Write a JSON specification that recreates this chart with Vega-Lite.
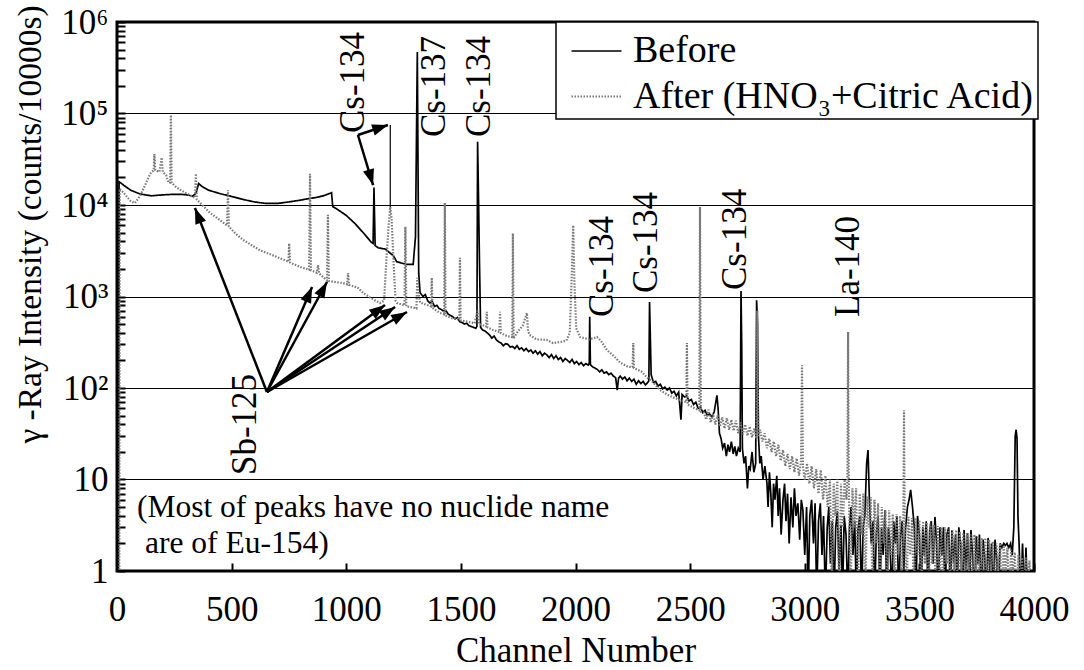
{
  "$schema": "https://vega.github.io/schema/vega-lite/v6.json",
  "width": 917,
  "height": 549,
  "autosize": {"type": "none"},
  "padding": {"left": 117, "top": 22, "right": 50, "bottom": 99},
  "background": "white",
  "config": {
    "font": "Liberation Serif",
    "view": {"stroke": "black", "strokeWidth": 3},
    "axis": {
      "domain": false,
      "labelFont": "Liberation Serif",
      "titleFont": "Liberation Serif",
      "labelColor": "black",
      "titleColor": "black",
      "titleFontWeight": "normal",
      "labelFontSize": 35,
      "titleFontSize": 33,
      "tickColor": "black",
      "tickWidth": 2,
      "labelOverlap": false,
      "labelBound": false
    },
    "legend": {
      "orient": "none",
      "legendX": 439,
      "legendY": 0,
      "direction": "vertical",
      "strokeColor": "black",
      "strokeWidth": 1.5,
      "fillColor": "white",
      "padding": 3,
      "labelFont": "Liberation Serif",
      "labelFontSize": 38,
      "labelColor": "black",
      "labelOffset": 10,
      "labelLimit": 600,
      "rowPadding": -2,
      "symbolOffset": 11,
      "symbolType": "stroke",
      "symbolSize": 2500,
      "symbolStrokeWidth": 5
    }
  },
  "datasets": {
    "spectrum": [
      {"s": "Before", "ch": 2, "v": 0.5}, {"s": "Before", "ch": 4, "v": 3}, {"s": "Before", "ch": 6, "v": 0.5},
      {"s": "Before", "ch": 9, "v": 18000}, {"s": "Before", "ch": 30, "v": 16400}, {"s": "Before", "ch": 60, "v": 14500},
      {"s": "Before", "ch": 100, "v": 13200}, {"s": "Before", "ch": 150, "v": 12600}, {"s": "Before", "ch": 200, "v": 12900},
      {"s": "Before", "ch": 250, "v": 13100}, {"s": "Before", "ch": 300, "v": 13000}, {"s": "Before", "ch": 330, "v": 12500},
      {"s": "Before", "ch": 345, "v": 13500}, {"s": "Before", "ch": 356, "v": 17200}, {"s": "Before", "ch": 370, "v": 16000},
      {"s": "Before", "ch": 400, "v": 14500}, {"s": "Before", "ch": 450, "v": 13300}, {"s": "Before", "ch": 500, "v": 12400},
      {"s": "Before", "ch": 550, "v": 11500}, {"s": "Before", "ch": 600, "v": 10800}, {"s": "Before", "ch": 650, "v": 10400},
      {"s": "Before", "ch": 700, "v": 10400}, {"s": "Before", "ch": 750, "v": 10800}, {"s": "Before", "ch": 800, "v": 11300},
      {"s": "Before", "ch": 842, "v": 11800}, {"s": "Before", "ch": 870, "v": 12100}, {"s": "Before", "ch": 900, "v": 12600},
      {"s": "Before", "ch": 936, "v": 13600}, {"s": "Before", "ch": 941, "v": 9600}, {"s": "Before", "ch": 960, "v": 9000},
      {"s": "Before", "ch": 1000, "v": 7700}, {"s": "Before", "ch": 1040, "v": 6200}, {"s": "Before", "ch": 1075, "v": 4950},
      {"s": "Before", "ch": 1110, "v": 3900}, {"s": "Before", "ch": 1117, "v": 3800}, {"s": "Before", "ch": 1121, "v": 15500},
      {"s": "Before", "ch": 1126, "v": 3600}, {"s": "Before", "ch": 1140, "v": 3400}, {"s": "Before", "ch": 1170, "v": 3300},
      {"s": "Before", "ch": 1190, "v": 3000}, {"s": "Before", "ch": 1205, "v": 2800}, {"s": "Before", "ch": 1220, "v": 2400},
      {"s": "Before", "ch": 1260, "v": 2250}, {"s": "Before", "ch": 1292, "v": 2250}, {"s": "Before", "ch": 1302, "v": 4500},
      {"s": "Before", "ch": 1310, "v": 470000}, {"s": "Before", "ch": 1316, "v": 1800}, {"s": "Before", "ch": 1322, "v": 1100},
      {"s": "Before", "ch": 1335, "v": 1000}, {"s": "Before", "ch": 1345, "v": 1050}, {"s": "Before", "ch": 1355, "v": 900},
      {"s": "Before", "ch": 1365, "v": 850}, {"s": "Before", "ch": 1375, "v": 880}, {"s": "Before", "ch": 1385, "v": 780},
      {"s": "Before", "ch": 1395, "v": 800}, {"s": "Before", "ch": 1405, "v": 740}, {"s": "Before", "ch": 1415, "v": 720},
      {"s": "Before", "ch": 1425, "v": 690}, {"s": "Before", "ch": 1435, "v": 700}, {"s": "Before", "ch": 1445, "v": 640},
      {"s": "Before", "ch": 1455, "v": 620}, {"s": "Before", "ch": 1465, "v": 600}, {"s": "Before", "ch": 1475, "v": 570},
      {"s": "Before", "ch": 1485, "v": 590}, {"s": "Before", "ch": 1495, "v": 530}, {"s": "Before", "ch": 1505, "v": 520},
      {"s": "Before", "ch": 1515, "v": 500}, {"s": "Before", "ch": 1525, "v": 510}, {"s": "Before", "ch": 1535, "v": 480},
      {"s": "Before", "ch": 1545, "v": 470}, {"s": "Before", "ch": 1555, "v": 460}, {"s": "Before", "ch": 1565, "v": 450},
      {"s": "Before", "ch": 1570, "v": 470}, {"s": "Before", "ch": 1573, "v": 49000}, {"s": "Before", "ch": 1577, "v": 12000},
      {"s": "Before", "ch": 1581, "v": 2500}, {"s": "Before", "ch": 1586, "v": 460}, {"s": "Before", "ch": 1595, "v": 430},
      {"s": "Before", "ch": 1605, "v": 420}, {"s": "Before", "ch": 1615, "v": 400}, {"s": "Before", "ch": 1625, "v": 380},
      {"s": "Before", "ch": 1635, "v": 350}, {"s": "Before", "ch": 1645, "v": 370}, {"s": "Before", "ch": 1655, "v": 335},
      {"s": "Before", "ch": 1665, "v": 320}, {"s": "Before", "ch": 1675, "v": 310}, {"s": "Before", "ch": 1685, "v": 290},
      {"s": "Before", "ch": 1695, "v": 305}, {"s": "Before", "ch": 1705, "v": 300}, {"s": "Before", "ch": 1715, "v": 280},
      {"s": "Before", "ch": 1725, "v": 285}, {"s": "Before", "ch": 1735, "v": 270}, {"s": "Before", "ch": 1745, "v": 290},
      {"s": "Before", "ch": 1755, "v": 265}, {"s": "Before", "ch": 1765, "v": 275}, {"s": "Before", "ch": 1775, "v": 255},
      {"s": "Before", "ch": 1785, "v": 270}, {"s": "Before", "ch": 1795, "v": 250}, {"s": "Before", "ch": 1805, "v": 260},
      {"s": "Before", "ch": 1815, "v": 240}, {"s": "Before", "ch": 1825, "v": 255}, {"s": "Before", "ch": 1835, "v": 235},
      {"s": "Before", "ch": 1845, "v": 250}, {"s": "Before", "ch": 1855, "v": 225}, {"s": "Before", "ch": 1865, "v": 240},
      {"s": "Before", "ch": 1875, "v": 230}, {"s": "Before", "ch": 1885, "v": 215}, {"s": "Before", "ch": 1895, "v": 232},
      {"s": "Before", "ch": 1905, "v": 210}, {"s": "Before", "ch": 1915, "v": 225}, {"s": "Before", "ch": 1925, "v": 205},
      {"s": "Before", "ch": 1935, "v": 215}, {"s": "Before", "ch": 1945, "v": 195}, {"s": "Before", "ch": 1955, "v": 210},
      {"s": "Before", "ch": 1965, "v": 200}, {"s": "Before", "ch": 1975, "v": 190}, {"s": "Before", "ch": 1985, "v": 205},
      {"s": "Before", "ch": 1995, "v": 185}, {"s": "Before", "ch": 2005, "v": 195}, {"s": "Before", "ch": 2015, "v": 180},
      {"s": "Before", "ch": 2025, "v": 190}, {"s": "Before", "ch": 2035, "v": 175}, {"s": "Before", "ch": 2045, "v": 185},
      {"s": "Before", "ch": 2055, "v": 178}, {"s": "Before", "ch": 2060, "v": 185}, {"s": "Before", "ch": 2062, "v": 600},
      {"s": "Before", "ch": 2065, "v": 180}, {"s": "Before", "ch": 2075, "v": 170}, {"s": "Before", "ch": 2085, "v": 165},
      {"s": "Before", "ch": 2095, "v": 160}, {"s": "Before", "ch": 2105, "v": 150}, {"s": "Before", "ch": 2115, "v": 158},
      {"s": "Before", "ch": 2125, "v": 145}, {"s": "Before", "ch": 2135, "v": 150}, {"s": "Before", "ch": 2145, "v": 140},
      {"s": "Before", "ch": 2155, "v": 145}, {"s": "Before", "ch": 2165, "v": 135}, {"s": "Before", "ch": 2175, "v": 130},
      {"s": "Before", "ch": 2182, "v": 95}, {"s": "Before", "ch": 2188, "v": 128}, {"s": "Before", "ch": 2195, "v": 135},
      {"s": "Before", "ch": 2205, "v": 125}, {"s": "Before", "ch": 2215, "v": 132}, {"s": "Before", "ch": 2225, "v": 120},
      {"s": "Before", "ch": 2235, "v": 128}, {"s": "Before", "ch": 2245, "v": 118}, {"s": "Before", "ch": 2255, "v": 125},
      {"s": "Before", "ch": 2265, "v": 110}, {"s": "Before", "ch": 2275, "v": 120}, {"s": "Before", "ch": 2285, "v": 112},
      {"s": "Before", "ch": 2295, "v": 118}, {"s": "Before", "ch": 2305, "v": 108}, {"s": "Before", "ch": 2315, "v": 115},
      {"s": "Before", "ch": 2320, "v": 120}, {"s": "Before", "ch": 2323, "v": 870}, {"s": "Before", "ch": 2326, "v": 400},
      {"s": "Before", "ch": 2330, "v": 140}, {"s": "Before", "ch": 2340, "v": 115}, {"s": "Before", "ch": 2350, "v": 118},
      {"s": "Before", "ch": 2360, "v": 105}, {"s": "Before", "ch": 2370, "v": 110}, {"s": "Before", "ch": 2380, "v": 98},
      {"s": "Before", "ch": 2390, "v": 102}, {"s": "Before", "ch": 2400, "v": 95}, {"s": "Before", "ch": 2410, "v": 100},
      {"s": "Before", "ch": 2420, "v": 88}, {"s": "Before", "ch": 2430, "v": 92}, {"s": "Before", "ch": 2440, "v": 82},
      {"s": "Before", "ch": 2450, "v": 90}, {"s": "Before", "ch": 2460, "v": 45}, {"s": "Before", "ch": 2465, "v": 85},
      {"s": "Before", "ch": 2475, "v": 80}, {"s": "Before", "ch": 2485, "v": 82}, {"s": "Before", "ch": 2495, "v": 72},
      {"s": "Before", "ch": 2505, "v": 75}, {"s": "Before", "ch": 2515, "v": 66}, {"s": "Before", "ch": 2525, "v": 70},
      {"s": "Before", "ch": 2535, "v": 60}, {"s": "Before", "ch": 2545, "v": 62}, {"s": "Before", "ch": 2555, "v": 54},
      {"s": "Before", "ch": 2565, "v": 57}, {"s": "Before", "ch": 2575, "v": 50}, {"s": "Before", "ch": 2585, "v": 52},
      {"s": "Before", "ch": 2595, "v": 48}, {"s": "Before", "ch": 2605, "v": 55}, {"s": "Before", "ch": 2612, "v": 70},
      {"s": "Before", "ch": 2617, "v": 83}, {"s": "Before", "ch": 2622, "v": 60}, {"s": "Before", "ch": 2628, "v": 32},
      {"s": "Before", "ch": 2635, "v": 28}, {"s": "Before", "ch": 2642, "v": 22}, {"s": "Before", "ch": 2650, "v": 25},
      {"s": "Before", "ch": 2658, "v": 18}, {"s": "Before", "ch": 2665, "v": 24}, {"s": "Before", "ch": 2672, "v": 20},
      {"s": "Before", "ch": 2680, "v": 26}, {"s": "Before", "ch": 2688, "v": 19}, {"s": "Before", "ch": 2695, "v": 23},
      {"s": "Before", "ch": 2702, "v": 18}, {"s": "Before", "ch": 2710, "v": 22}, {"s": "Before", "ch": 2718, "v": 20},
      {"s": "Before", "ch": 2722, "v": 1150}, {"s": "Before", "ch": 2725, "v": 300}, {"s": "Before", "ch": 2728, "v": 22},
      {"s": "Before", "ch": 2735, "v": 15}, {"s": "Before", "ch": 2742, "v": 18}, {"s": "Before", "ch": 2750, "v": 8},
      {"s": "Before", "ch": 2756, "v": 14}, {"s": "Before", "ch": 2762, "v": 13}, {"s": "Before", "ch": 2770, "v": 20},
      {"s": "Before", "ch": 2778, "v": 12}, {"s": "Before", "ch": 2786, "v": 15}, {"s": "Before", "ch": 2790, "v": 910},
      {"s": "Before", "ch": 2794, "v": 500}, {"s": "Before", "ch": 2798, "v": 30}, {"s": "Before", "ch": 2804, "v": 15},
      {"s": "Before", "ch": 2810, "v": 18}, {"s": "Before", "ch": 2818, "v": 10}, {"s": "Before", "ch": 2826, "v": 14},
      {"s": "Before", "ch": 2835, "v": 9.2}, {"s": "Before", "ch": 2840, "v": 5}, {"s": "Before", "ch": 2846, "v": 12},
      {"s": "Before", "ch": 2852, "v": 7}, {"s": "Before", "ch": 2858, "v": 3}, {"s": "Before", "ch": 2864, "v": 9},
      {"s": "Before", "ch": 2870, "v": 6}, {"s": "Before", "ch": 2878, "v": 11}, {"s": "Before", "ch": 2884, "v": 4},
      {"s": "Before", "ch": 2890, "v": 8}, {"s": "Before", "ch": 2897, "v": 2.5}, {"s": "Before", "ch": 2905, "v": 6},
      {"s": "Before", "ch": 2912, "v": 9}, {"s": "Before", "ch": 2918, "v": 3.5}, {"s": "Before", "ch": 2925, "v": 7},
      {"s": "Before", "ch": 2932, "v": 2}, {"s": "Before", "ch": 2940, "v": 6.4}, {"s": "Before", "ch": 2948, "v": 3},
      {"s": "Before", "ch": 2955, "v": 8}, {"s": "Before", "ch": 2962, "v": 4}, {"s": "Before", "ch": 2970, "v": 5.5},
      {"s": "Before", "ch": 2978, "v": 2.2}, {"s": "Before", "ch": 2985, "v": 6}, {"s": "Before", "ch": 2992, "v": 4.6},
      {"s": "Before", "ch": 3000, "v": 1.5}, {"s": "Before", "ch": 3008, "v": 5}, {"s": "Before", "ch": 3015, "v": 0.5},
      {"s": "Before", "ch": 3022, "v": 4}, {"s": "Before", "ch": 3030, "v": 6}, {"s": "Before", "ch": 3038, "v": 2},
      {"s": "Before", "ch": 3045, "v": 5.5}, {"s": "Before", "ch": 3052, "v": 0.5}, {"s": "Before", "ch": 3060, "v": 3.5},
      {"s": "Before", "ch": 3068, "v": 5.5}, {"s": "Before", "ch": 3075, "v": 1.5}, {"s": "Before", "ch": 3082, "v": 4},
      {"s": "Before", "ch": 3090, "v": 0.5}, {"s": "Before", "ch": 3098, "v": 3}, {"s": "Before", "ch": 3105, "v": 5},
      {"s": "Before", "ch": 3112, "v": 1.2}, {"s": "Before", "ch": 3120, "v": 3.5}, {"s": "Before", "ch": 3128, "v": 0.5},
      {"s": "Before", "ch": 3135, "v": 3}, {"s": "Before", "ch": 3142, "v": 4.5}, {"s": "Before", "ch": 3150, "v": 1},
      {"s": "Before", "ch": 3158, "v": 3.2}, {"s": "Before", "ch": 3165, "v": 0.5}, {"s": "Before", "ch": 3172, "v": 4},
      {"s": "Before", "ch": 3180, "v": 2.5}, {"s": "Before", "ch": 3188, "v": 0.5}, {"s": "Before", "ch": 3195, "v": 3},
      {"s": "Before", "ch": 3202, "v": 5}, {"s": "Before", "ch": 3210, "v": 1.5}, {"s": "Before", "ch": 3218, "v": 3.5},
      {"s": "Before", "ch": 3225, "v": 0.5}, {"s": "Before", "ch": 3232, "v": 2.8}, {"s": "Before", "ch": 3240, "v": 4},
      {"s": "Before", "ch": 3248, "v": 0.5}, {"s": "Before", "ch": 3255, "v": 3}, {"s": "Before", "ch": 3262, "v": 4},
      {"s": "Before", "ch": 3270, "v": 15}, {"s": "Before", "ch": 3276, "v": 21}, {"s": "Before", "ch": 3282, "v": 6},
      {"s": "Before", "ch": 3290, "v": 2}, {"s": "Before", "ch": 3298, "v": 3.5}, {"s": "Before", "ch": 3305, "v": 0.5},
      {"s": "Before", "ch": 3312, "v": 2.5}, {"s": "Before", "ch": 3320, "v": 4}, {"s": "Before", "ch": 3328, "v": 0.5},
      {"s": "Before", "ch": 3335, "v": 3}, {"s": "Before", "ch": 3342, "v": 1.5}, {"s": "Before", "ch": 3350, "v": 4.6},
      {"s": "Before", "ch": 3358, "v": 0.5}, {"s": "Before", "ch": 3365, "v": 3}, {"s": "Before", "ch": 3372, "v": 2},
      {"s": "Before", "ch": 3380, "v": 0.5}, {"s": "Before", "ch": 3388, "v": 3.5}, {"s": "Before", "ch": 3395, "v": 2},
      {"s": "Before", "ch": 3402, "v": 4}, {"s": "Before", "ch": 3410, "v": 0.5}, {"s": "Before", "ch": 3418, "v": 2.5},
      {"s": "Before", "ch": 3425, "v": 3.5}, {"s": "Before", "ch": 3432, "v": 1}, {"s": "Before", "ch": 3440, "v": 3},
      {"s": "Before", "ch": 3448, "v": 5}, {"s": "Before", "ch": 3455, "v": 6}, {"s": "Before", "ch": 3462, "v": 7.7},
      {"s": "Before", "ch": 3470, "v": 5}, {"s": "Before", "ch": 3478, "v": 3}, {"s": "Before", "ch": 3485, "v": 0.5},
      {"s": "Before", "ch": 3492, "v": 4}, {"s": "Before", "ch": 3500, "v": 2.5}, {"s": "Before", "ch": 3508, "v": 0.5},
      {"s": "Before", "ch": 3515, "v": 3}, {"s": "Before", "ch": 3522, "v": 1.5}, {"s": "Before", "ch": 3530, "v": 3.5},
      {"s": "Before", "ch": 3538, "v": 0.5}, {"s": "Before", "ch": 3545, "v": 2.8}, {"s": "Before", "ch": 3552, "v": 3.5},
      {"s": "Before", "ch": 3560, "v": 1.2}, {"s": "Before", "ch": 3568, "v": 3.9}, {"s": "Before", "ch": 3575, "v": 2},
      {"s": "Before", "ch": 3582, "v": 0.5}, {"s": "Before", "ch": 3590, "v": 3}, {"s": "Before", "ch": 3598, "v": 1.5},
      {"s": "Before", "ch": 3605, "v": 3}, {"s": "Before", "ch": 3612, "v": 0.5}, {"s": "Before", "ch": 3620, "v": 2.5},
      {"s": "Before", "ch": 3628, "v": 3}, {"s": "Before", "ch": 3635, "v": 0.5}, {"s": "Before", "ch": 3642, "v": 2.8},
      {"s": "Before", "ch": 3650, "v": 1.2}, {"s": "Before", "ch": 3658, "v": 2.5}, {"s": "Before", "ch": 3665, "v": 0.5},
      {"s": "Before", "ch": 3672, "v": 3}, {"s": "Before", "ch": 3680, "v": 2}, {"s": "Before", "ch": 3688, "v": 0.5},
      {"s": "Before", "ch": 3695, "v": 2.8}, {"s": "Before", "ch": 3702, "v": 1}, {"s": "Before", "ch": 3710, "v": 2.6},
      {"s": "Before", "ch": 3718, "v": 0.5}, {"s": "Before", "ch": 3725, "v": 2.8}, {"s": "Before", "ch": 3732, "v": 1.5},
      {"s": "Before", "ch": 3740, "v": 0.5}, {"s": "Before", "ch": 3748, "v": 2.4}, {"s": "Before", "ch": 3755, "v": 1.2},
      {"s": "Before", "ch": 3762, "v": 2.5}, {"s": "Before", "ch": 3770, "v": 0.5}, {"s": "Before", "ch": 3778, "v": 2.2},
      {"s": "Before", "ch": 3785, "v": 1.4}, {"s": "Before", "ch": 3792, "v": 0.5}, {"s": "Before", "ch": 3800, "v": 2.3},
      {"s": "Before", "ch": 3808, "v": 1}, {"s": "Before", "ch": 3815, "v": 2}, {"s": "Before", "ch": 3822, "v": 0.5},
      {"s": "Before", "ch": 3830, "v": 2.2}, {"s": "Before", "ch": 3838, "v": 1.3}, {"s": "Before", "ch": 3845, "v": 0.5},
      {"s": "Before", "ch": 3852, "v": 2}, {"s": "Before", "ch": 3860, "v": 1.8}, {"s": "Before", "ch": 3868, "v": 2},
      {"s": "Before", "ch": 3875, "v": 1.9}, {"s": "Before", "ch": 3882, "v": 2}, {"s": "Before", "ch": 3890, "v": 1.8},
      {"s": "Before", "ch": 3898, "v": 2}, {"s": "Before", "ch": 3905, "v": 1.5}, {"s": "Before", "ch": 3912, "v": 3},
      {"s": "Before", "ch": 3918, "v": 30}, {"s": "Before", "ch": 3922, "v": 35}, {"s": "Before", "ch": 3926, "v": 28},
      {"s": "Before", "ch": 3930, "v": 4}, {"s": "Before", "ch": 3935, "v": 2}, {"s": "Before", "ch": 3942, "v": 0.5},
      {"s": "Before", "ch": 3950, "v": 2}, {"s": "Before", "ch": 3958, "v": 0.5}, {"s": "Before", "ch": 3965, "v": 1.8},
      {"s": "Before", "ch": 3972, "v": 0.5},

      {"s": "After (HNO₃+Citric Acid)", "ch": 5, "v": 0.5}, {"s": "After (HNO₃+Citric Acid)", "ch": 10, "v": 0.5},
      {"s": "After (HNO₃+Citric Acid)", "ch": 12, "v": 15000}, {"s": "After (HNO₃+Citric Acid)", "ch": 30, "v": 13500},
      {"s": "After (HNO₃+Citric Acid)", "ch": 60, "v": 11000}, {"s": "After (HNO₃+Citric Acid)", "ch": 78, "v": 10500},
      {"s": "After (HNO₃+Citric Acid)", "ch": 100, "v": 12500}, {"s": "After (HNO₃+Citric Acid)", "ch": 120, "v": 16000},
      {"s": "After (HNO₃+Citric Acid)", "ch": 145, "v": 22000}, {"s": "After (HNO₃+Citric Acid)", "ch": 160, "v": 24000},
      {"s": "After (HNO₃+Citric Acid)", "ch": 163, "v": 36000}, {"s": "After (HNO₃+Citric Acid)", "ch": 167, "v": 24000},
      {"s": "After (HNO₃+Citric Acid)", "ch": 185, "v": 23000}, {"s": "After (HNO₃+Citric Acid)", "ch": 195, "v": 33000},
      {"s": "After (HNO₃+Citric Acid)", "ch": 200, "v": 23000}, {"s": "After (HNO₃+Citric Acid)", "ch": 215, "v": 21000},
      {"s": "After (HNO₃+Citric Acid)", "ch": 225, "v": 17500}, {"s": "After (HNO₃+Citric Acid)", "ch": 232, "v": 17500},
      {"s": "After (HNO₃+Citric Acid)", "ch": 235, "v": 96000}, {"s": "After (HNO₃+Citric Acid)", "ch": 238, "v": 17500},
      {"s": "After (HNO₃+Citric Acid)", "ch": 260, "v": 15500}, {"s": "After (HNO₃+Citric Acid)", "ch": 300, "v": 13500},
      {"s": "After (HNO₃+Citric Acid)", "ch": 331, "v": 12300}, {"s": "After (HNO₃+Citric Acid)", "ch": 340, "v": 12000},
      {"s": "After (HNO₃+Citric Acid)", "ch": 344, "v": 22000}, {"s": "After (HNO₃+Citric Acid)", "ch": 348, "v": 11500},
      {"s": "After (HNO₃+Citric Acid)", "ch": 380, "v": 9500}, {"s": "After (HNO₃+Citric Acid)", "ch": 406, "v": 8200},
      {"s": "After (HNO₃+Citric Acid)", "ch": 450, "v": 6800}, {"s": "After (HNO₃+Citric Acid)", "ch": 480, "v": 6000},
      {"s": "After (HNO₃+Citric Acid)", "ch": 484, "v": 14500}, {"s": "After (HNO₃+Citric Acid)", "ch": 488, "v": 5800},
      {"s": "After (HNO₃+Citric Acid)", "ch": 520, "v": 4800}, {"s": "After (HNO₃+Citric Acid)", "ch": 550, "v": 4150},
      {"s": "After (HNO₃+Citric Acid)", "ch": 590, "v": 3600}, {"s": "After (HNO₃+Citric Acid)", "ch": 624, "v": 3200},
      {"s": "After (HNO₃+Citric Acid)", "ch": 660, "v": 2950}, {"s": "After (HNO₃+Citric Acid)", "ch": 698, "v": 2700},
      {"s": "After (HNO₃+Citric Acid)", "ch": 730, "v": 2500}, {"s": "After (HNO₃+Citric Acid)", "ch": 748, "v": 2400},
      {"s": "After (HNO₃+Citric Acid)", "ch": 751, "v": 3800}, {"s": "After (HNO₃+Citric Acid)", "ch": 755, "v": 2350},
      {"s": "After (HNO₃+Citric Acid)", "ch": 800, "v": 2100}, {"s": "After (HNO₃+Citric Acid)", "ch": 838, "v": 1960},
      {"s": "After (HNO₃+Citric Acid)", "ch": 842, "v": 22000}, {"s": "After (HNO₃+Citric Acid)", "ch": 846, "v": 1930},
      {"s": "After (HNO₃+Citric Acid)", "ch": 872, "v": 1820}, {"s": "After (HNO₃+Citric Acid)", "ch": 877, "v": 2200},
      {"s": "After (HNO₃+Citric Acid)", "ch": 882, "v": 1780}, {"s": "After (HNO₃+Citric Acid)", "ch": 916, "v": 1500},
      {"s": "After (HNO₃+Citric Acid)", "ch": 920, "v": 7800}, {"s": "After (HNO₃+Citric Acid)", "ch": 924, "v": 1480},
      {"s": "After (HNO₃+Citric Acid)", "ch": 960, "v": 1430}, {"s": "After (HNO₃+Citric Acid)", "ch": 986, "v": 1400},
      {"s": "After (HNO₃+Citric Acid)", "ch": 1004, "v": 1360}, {"s": "After (HNO₃+Citric Acid)", "ch": 1008, "v": 1800},
      {"s": "After (HNO₃+Citric Acid)", "ch": 1012, "v": 1340}, {"s": "After (HNO₃+Citric Acid)", "ch": 1050, "v": 1250},
      {"s": "After (HNO₃+Citric Acid)", "ch": 1073, "v": 1100}, {"s": "After (HNO₃+Citric Acid)", "ch": 1110, "v": 950},
      {"s": "After (HNO₃+Citric Acid)", "ch": 1147, "v": 850}, {"s": "After (HNO₃+Citric Acid)", "ch": 1165, "v": 900},
      {"s": "After (HNO₃+Citric Acid)", "ch": 1175, "v": 2500}, {"s": "After (HNO₃+Citric Acid)", "ch": 1185, "v": 6000},
      {"s": "After (HNO₃+Citric Acid)", "ch": 1192, "v": 9500}, {"s": "After (HNO₃+Citric Acid)", "ch": 1198, "v": 7000},
      {"s": "After (HNO₃+Citric Acid)", "ch": 1206, "v": 2500}, {"s": "After (HNO₃+Citric Acid)", "ch": 1215, "v": 900},
      {"s": "After (HNO₃+Citric Acid)", "ch": 1222, "v": 850}, {"s": "After (HNO₃+Citric Acid)", "ch": 1254, "v": 800},
      {"s": "After (HNO₃+Citric Acid)", "ch": 1258, "v": 5800}, {"s": "After (HNO₃+Citric Acid)", "ch": 1262, "v": 780},
      {"s": "After (HNO₃+Citric Acid)", "ch": 1290, "v": 760}, {"s": "After (HNO₃+Citric Acid)", "ch": 1306, "v": 740},
      {"s": "After (HNO₃+Citric Acid)", "ch": 1310, "v": 1600}, {"s": "After (HNO₃+Citric Acid)", "ch": 1315, "v": 1100},
      {"s": "After (HNO₃+Citric Acid)", "ch": 1322, "v": 860}, {"s": "After (HNO₃+Citric Acid)", "ch": 1345, "v": 820},
      {"s": "After (HNO₃+Citric Acid)", "ch": 1370, "v": 780}, {"s": "After (HNO₃+Citric Acid)", "ch": 1373, "v": 1600},
      {"s": "After (HNO₃+Citric Acid)", "ch": 1376, "v": 750}, {"s": "After (HNO₃+Citric Acid)", "ch": 1409, "v": 660},
      {"s": "After (HNO₃+Citric Acid)", "ch": 1427, "v": 640}, {"s": "After (HNO₃+Citric Acid)", "ch": 1430, "v": 10500},
      {"s": "After (HNO₃+Citric Acid)", "ch": 1433, "v": 620}, {"s": "After (HNO₃+Citric Acid)", "ch": 1460, "v": 580},
      {"s": "After (HNO₃+Citric Acid)", "ch": 1493, "v": 560}, {"s": "After (HNO₃+Citric Acid)", "ch": 1496, "v": 2650},
      {"s": "After (HNO₃+Citric Acid)", "ch": 1499, "v": 550}, {"s": "After (HNO₃+Citric Acid)", "ch": 1530, "v": 530},
      {"s": "After (HNO₃+Citric Acid)", "ch": 1560, "v": 510}, {"s": "After (HNO₃+Citric Acid)", "ch": 1572, "v": 700},
      {"s": "After (HNO₃+Citric Acid)", "ch": 1580, "v": 500}, {"s": "After (HNO₃+Citric Acid)", "ch": 1610, "v": 470},
      {"s": "After (HNO₃+Citric Acid)", "ch": 1613, "v": 680}, {"s": "After (HNO₃+Citric Acid)", "ch": 1616, "v": 460},
      {"s": "After (HNO₃+Citric Acid)", "ch": 1640, "v": 430}, {"s": "After (HNO₃+Citric Acid)", "ch": 1668, "v": 410},
      {"s": "After (HNO₃+Citric Acid)", "ch": 1671, "v": 680}, {"s": "After (HNO₃+Citric Acid)", "ch": 1674, "v": 400},
      {"s": "After (HNO₃+Citric Acid)", "ch": 1700, "v": 370}, {"s": "After (HNO₃+Citric Acid)", "ch": 1724, "v": 360},
      {"s": "After (HNO₃+Citric Acid)", "ch": 1727, "v": 4900}, {"s": "After (HNO₃+Citric Acid)", "ch": 1730, "v": 350},
      {"s": "After (HNO₃+Citric Acid)", "ch": 1750, "v": 420}, {"s": "After (HNO₃+Citric Acid)", "ch": 1770, "v": 480},
      {"s": "After (HNO₃+Citric Acid)", "ch": 1788, "v": 660}, {"s": "After (HNO₃+Citric Acid)", "ch": 1793, "v": 420},
      {"s": "After (HNO₃+Citric Acid)", "ch": 1800, "v": 380}, {"s": "After (HNO₃+Citric Acid)", "ch": 1830, "v": 340},
      {"s": "After (HNO₃+Citric Acid)", "ch": 1875, "v": 335}, {"s": "After (HNO₃+Citric Acid)", "ch": 1902, "v": 310},
      {"s": "After (HNO₃+Citric Acid)", "ch": 1940, "v": 320}, {"s": "After (HNO₃+Citric Acid)", "ch": 1960, "v": 330},
      {"s": "After (HNO₃+Citric Acid)", "ch": 1975, "v": 400}, {"s": "After (HNO₃+Citric Acid)", "ch": 1983, "v": 1500},
      {"s": "After (HNO₃+Citric Acid)", "ch": 1990, "v": 6000}, {"s": "After (HNO₃+Citric Acid)", "ch": 1995, "v": 1500},
      {"s": "After (HNO₃+Citric Acid)", "ch": 2003, "v": 450}, {"s": "After (HNO₃+Citric Acid)", "ch": 2020, "v": 360},
      {"s": "After (HNO₃+Citric Acid)", "ch": 2060, "v": 340}, {"s": "After (HNO₃+Citric Acid)", "ch": 2094, "v": 360},
      {"s": "After (HNO₃+Citric Acid)", "ch": 2110, "v": 330}, {"s": "After (HNO₃+Citric Acid)", "ch": 2137, "v": 260},
      {"s": "After (HNO₃+Citric Acid)", "ch": 2170, "v": 220}, {"s": "After (HNO₃+Citric Acid)", "ch": 2194, "v": 190},
      {"s": "After (HNO₃+Citric Acid)", "ch": 2230, "v": 170}, {"s": "After (HNO₃+Citric Acid)", "ch": 2249, "v": 170},
      {"s": "After (HNO₃+Citric Acid)", "ch": 2252, "v": 310}, {"s": "After (HNO₃+Citric Acid)", "ch": 2255, "v": 165},
      {"s": "After (HNO₃+Citric Acid)", "ch": 2290, "v": 150}, {"s": "After (HNO₃+Citric Acid)", "ch": 2312, "v": 130},
      {"s": "After (HNO₃+Citric Acid)", "ch": 2340, "v": 115}, {"s": "After (HNO₃+Citric Acid)", "ch": 2368, "v": 95},
      {"s": "After (HNO₃+Citric Acid)", "ch": 2400, "v": 85}, {"s": "After (HNO₃+Citric Acid)", "ch": 2420, "v": 80},
      {"s": "After (HNO₃+Citric Acid)", "ch": 2450, "v": 75}, {"s": "After (HNO₃+Citric Acid)", "ch": 2483, "v": 70},
      {"s": "After (HNO₃+Citric Acid)", "ch": 2486, "v": 310}, {"s": "After (HNO₃+Citric Acid)", "ch": 2489, "v": 66},
      {"s": "After (HNO₃+Citric Acid)", "ch": 2520, "v": 60}, {"s": "After (HNO₃+Citric Acid)", "ch": 2540, "v": 57},
      {"s": "After (HNO₃+Citric Acid)", "ch": 2543, "v": 9500}, {"s": "After (HNO₃+Citric Acid)", "ch": 2547, "v": 55},
      {"s": "After (HNO₃+Citric Acid)", "ch": 2560, "v": 54}, {"s": "After (HNO₃+Citric Acid)", "ch": 2570, "v": 45},
      {"s": "After (HNO₃+Citric Acid)", "ch": 2580, "v": 58}, {"s": "After (HNO₃+Citric Acid)", "ch": 2590, "v": 42},
      {"s": "After (HNO₃+Citric Acid)", "ch": 2600, "v": 52}, {"s": "After (HNO₃+Citric Acid)", "ch": 2610, "v": 40},
      {"s": "After (HNO₃+Citric Acid)", "ch": 2620, "v": 50}, {"s": "After (HNO₃+Citric Acid)", "ch": 2630, "v": 38},
      {"s": "After (HNO₃+Citric Acid)", "ch": 2640, "v": 48}, {"s": "After (HNO₃+Citric Acid)", "ch": 2650, "v": 36},
      {"s": "After (HNO₃+Citric Acid)", "ch": 2660, "v": 47}, {"s": "After (HNO₃+Citric Acid)", "ch": 2670, "v": 35},
      {"s": "After (HNO₃+Citric Acid)", "ch": 2680, "v": 45}, {"s": "After (HNO₃+Citric Acid)", "ch": 2690, "v": 34},
      {"s": "After (HNO₃+Citric Acid)", "ch": 2700, "v": 44}, {"s": "After (HNO₃+Citric Acid)", "ch": 2710, "v": 32},
      {"s": "After (HNO₃+Citric Acid)", "ch": 2720, "v": 42}, {"s": "After (HNO₃+Citric Acid)", "ch": 2730, "v": 31},
      {"s": "After (HNO₃+Citric Acid)", "ch": 2740, "v": 40}, {"s": "After (HNO₃+Citric Acid)", "ch": 2750, "v": 30},
      {"s": "After (HNO₃+Citric Acid)", "ch": 2760, "v": 38}, {"s": "After (HNO₃+Citric Acid)", "ch": 2770, "v": 29},
      {"s": "After (HNO₃+Citric Acid)", "ch": 2780, "v": 36}, {"s": "After (HNO₃+Citric Acid)", "ch": 2789, "v": 28},
      {"s": "After (HNO₃+Citric Acid)", "ch": 2793, "v": 700}, {"s": "After (HNO₃+Citric Acid)", "ch": 2797, "v": 30},
      {"s": "After (HNO₃+Citric Acid)", "ch": 2805, "v": 35}, {"s": "After (HNO₃+Citric Acid)", "ch": 2815, "v": 26},
      {"s": "After (HNO₃+Citric Acid)", "ch": 2825, "v": 32}, {"s": "After (HNO₃+Citric Acid)", "ch": 2835, "v": 22},
      {"s": "After (HNO₃+Citric Acid)", "ch": 2845, "v": 28}, {"s": "After (HNO₃+Citric Acid)", "ch": 2855, "v": 20},
      {"s": "After (HNO₃+Citric Acid)", "ch": 2865, "v": 26}, {"s": "After (HNO₃+Citric Acid)", "ch": 2875, "v": 18},
      {"s": "After (HNO₃+Citric Acid)", "ch": 2885, "v": 24}, {"s": "After (HNO₃+Citric Acid)", "ch": 2895, "v": 16},
      {"s": "After (HNO₃+Citric Acid)", "ch": 2905, "v": 21}, {"s": "After (HNO₃+Citric Acid)", "ch": 2915, "v": 14},
      {"s": "After (HNO₃+Citric Acid)", "ch": 2925, "v": 19}, {"s": "After (HNO₃+Citric Acid)", "ch": 2935, "v": 13},
      {"s": "After (HNO₃+Citric Acid)", "ch": 2945, "v": 18}, {"s": "After (HNO₃+Citric Acid)", "ch": 2955, "v": 12},
      {"s": "After (HNO₃+Citric Acid)", "ch": 2965, "v": 17}, {"s": "After (HNO₃+Citric Acid)", "ch": 2975, "v": 11},
      {"s": "After (HNO₃+Citric Acid)", "ch": 2984, "v": 16}, {"s": "After (HNO₃+Citric Acid)", "ch": 2988, "v": 177},
      {"s": "After (HNO₃+Citric Acid)", "ch": 2992, "v": 14}, {"s": "After (HNO₃+Citric Acid)", "ch": 3000, "v": 10},
      {"s": "After (HNO₃+Citric Acid)", "ch": 3010, "v": 15}, {"s": "After (HNO₃+Citric Acid)", "ch": 3020, "v": 9},
      {"s": "After (HNO₃+Citric Acid)", "ch": 3030, "v": 14}, {"s": "After (HNO₃+Citric Acid)", "ch": 3040, "v": 8},
      {"s": "After (HNO₃+Citric Acid)", "ch": 3050, "v": 13}, {"s": "After (HNO₃+Citric Acid)", "ch": 3060, "v": 7},
      {"s": "After (HNO₃+Citric Acid)", "ch": 3070, "v": 12.7}, {"s": "After (HNO₃+Citric Acid)", "ch": 3080, "v": 6},
      {"s": "After (HNO₃+Citric Acid)", "ch": 3090, "v": 11}, {"s": "After (HNO₃+Citric Acid)", "ch": 3100, "v": 5},
      {"s": "After (HNO₃+Citric Acid)", "ch": 3110, "v": 10}, {"s": "After (HNO₃+Citric Acid)", "ch": 3118, "v": 0.5},
      {"s": "After (HNO₃+Citric Acid)", "ch": 3126, "v": 9}, {"s": "After (HNO₃+Citric Acid)", "ch": 3134, "v": 4},
      {"s": "After (HNO₃+Citric Acid)", "ch": 3142, "v": 10}, {"s": "After (HNO₃+Citric Acid)", "ch": 3150, "v": 0.5},
      {"s": "After (HNO₃+Citric Acid)", "ch": 3158, "v": 9}, {"s": "After (HNO₃+Citric Acid)", "ch": 3166, "v": 3},
      {"s": "After (HNO₃+Citric Acid)", "ch": 3174, "v": 10}, {"s": "After (HNO₃+Citric Acid)", "ch": 3182, "v": 6},
      {"s": "After (HNO₃+Citric Acid)", "ch": 3186, "v": 10}, {"s": "After (HNO₃+Citric Acid)", "ch": 3189, "v": 410},
      {"s": "After (HNO₃+Citric Acid)", "ch": 3192, "v": 9.8}, {"s": "After (HNO₃+Citric Acid)", "ch": 3200, "v": 0.5},
      {"s": "After (HNO₃+Citric Acid)", "ch": 3208, "v": 8}, {"s": "After (HNO₃+Citric Acid)", "ch": 3216, "v": 3},
      {"s": "After (HNO₃+Citric Acid)", "ch": 3224, "v": 8}, {"s": "After (HNO₃+Citric Acid)", "ch": 3232, "v": 0.5},
      {"s": "After (HNO₃+Citric Acid)", "ch": 3240, "v": 7}, {"s": "After (HNO₃+Citric Acid)", "ch": 3248, "v": 2.5},
      {"s": "After (HNO₃+Citric Acid)", "ch": 3256, "v": 7}, {"s": "After (HNO₃+Citric Acid)", "ch": 3264, "v": 0.5},
      {"s": "After (HNO₃+Citric Acid)", "ch": 3272, "v": 6.5}, {"s": "After (HNO₃+Citric Acid)", "ch": 3280, "v": 3},
      {"s": "After (HNO₃+Citric Acid)", "ch": 3288, "v": 6.4}, {"s": "After (HNO₃+Citric Acid)", "ch": 3296, "v": 0.5},
      {"s": "After (HNO₃+Citric Acid)", "ch": 3304, "v": 6}, {"s": "After (HNO₃+Citric Acid)", "ch": 3312, "v": 2},
      {"s": "After (HNO₃+Citric Acid)", "ch": 3320, "v": 5.5}, {"s": "After (HNO₃+Citric Acid)", "ch": 3328, "v": 0.5},
      {"s": "After (HNO₃+Citric Acid)", "ch": 3336, "v": 5}, {"s": "After (HNO₃+Citric Acid)", "ch": 3344, "v": 2},
      {"s": "After (HNO₃+Citric Acid)", "ch": 3352, "v": 4.6}, {"s": "After (HNO₃+Citric Acid)", "ch": 3360, "v": 0.5},
      {"s": "After (HNO₃+Citric Acid)", "ch": 3368, "v": 4.6}, {"s": "After (HNO₃+Citric Acid)", "ch": 3376, "v": 1.5},
      {"s": "After (HNO₃+Citric Acid)", "ch": 3384, "v": 4.2}, {"s": "After (HNO₃+Citric Acid)", "ch": 3392, "v": 0.5},
      {"s": "After (HNO₃+Citric Acid)", "ch": 3400, "v": 4.2}, {"s": "After (HNO₃+Citric Acid)", "ch": 3408, "v": 1.5},
      {"s": "After (HNO₃+Citric Acid)", "ch": 3416, "v": 4}, {"s": "After (HNO₃+Citric Acid)", "ch": 3424, "v": 0.5},
      {"s": "After (HNO₃+Citric Acid)", "ch": 3430, "v": 4}, {"s": "After (HNO₃+Citric Acid)", "ch": 3433, "v": 57},
      {"s": "After (HNO₃+Citric Acid)", "ch": 3436, "v": 3.9}, {"s": "After (HNO₃+Citric Acid)", "ch": 3444, "v": 0.5},
      {"s": "After (HNO₃+Citric Acid)", "ch": 3452, "v": 3.9}, {"s": "After (HNO₃+Citric Acid)", "ch": 3460, "v": 1.5},
      {"s": "After (HNO₃+Citric Acid)", "ch": 3468, "v": 3.8}, {"s": "After (HNO₃+Citric Acid)", "ch": 3476, "v": 0.5},
      {"s": "After (HNO₃+Citric Acid)", "ch": 3484, "v": 3.8}, {"s": "After (HNO₃+Citric Acid)", "ch": 3492, "v": 1.5},
      {"s": "After (HNO₃+Citric Acid)", "ch": 3500, "v": 3.6}, {"s": "After (HNO₃+Citric Acid)", "ch": 3508, "v": 0.5},
      {"s": "After (HNO₃+Citric Acid)", "ch": 3516, "v": 3.5}, {"s": "After (HNO₃+Citric Acid)", "ch": 3524, "v": 1.2},
      {"s": "After (HNO₃+Citric Acid)", "ch": 3532, "v": 3.4}, {"s": "After (HNO₃+Citric Acid)", "ch": 3540, "v": 0.5},
      {"s": "After (HNO₃+Citric Acid)", "ch": 3548, "v": 3.3}, {"s": "After (HNO₃+Citric Acid)", "ch": 3556, "v": 1.2},
      {"s": "After (HNO₃+Citric Acid)", "ch": 3564, "v": 3.2}, {"s": "After (HNO₃+Citric Acid)", "ch": 3572, "v": 0.5},
      {"s": "After (HNO₃+Citric Acid)", "ch": 3580, "v": 3.1}, {"s": "After (HNO₃+Citric Acid)", "ch": 3588, "v": 1},
      {"s": "After (HNO₃+Citric Acid)", "ch": 3596, "v": 3}, {"s": "After (HNO₃+Citric Acid)", "ch": 3604, "v": 0.5},
      {"s": "After (HNO₃+Citric Acid)", "ch": 3612, "v": 3}, {"s": "After (HNO₃+Citric Acid)", "ch": 3620, "v": 1.2},
      {"s": "After (HNO₃+Citric Acid)", "ch": 3628, "v": 2.9}, {"s": "After (HNO₃+Citric Acid)", "ch": 3636, "v": 0.5},
      {"s": "After (HNO₃+Citric Acid)", "ch": 3644, "v": 2.8}, {"s": "After (HNO₃+Citric Acid)", "ch": 3652, "v": 1},
      {"s": "After (HNO₃+Citric Acid)", "ch": 3660, "v": 2.8}, {"s": "After (HNO₃+Citric Acid)", "ch": 3668, "v": 0.5},
      {"s": "After (HNO₃+Citric Acid)", "ch": 3676, "v": 2.7}, {"s": "After (HNO₃+Citric Acid)", "ch": 3684, "v": 1},
      {"s": "After (HNO₃+Citric Acid)", "ch": 3692, "v": 2.6}, {"s": "After (HNO₃+Citric Acid)", "ch": 3700, "v": 0.5},
      {"s": "After (HNO₃+Citric Acid)", "ch": 3708, "v": 2.6}, {"s": "After (HNO₃+Citric Acid)", "ch": 3716, "v": 1},
      {"s": "After (HNO₃+Citric Acid)", "ch": 3724, "v": 2.5}, {"s": "After (HNO₃+Citric Acid)", "ch": 3732, "v": 0.5},
      {"s": "After (HNO₃+Citric Acid)", "ch": 3740, "v": 2.5}, {"s": "After (HNO₃+Citric Acid)", "ch": 3748, "v": 1},
      {"s": "After (HNO₃+Citric Acid)", "ch": 3756, "v": 2.4}, {"s": "After (HNO₃+Citric Acid)", "ch": 3764, "v": 0.5},
      {"s": "After (HNO₃+Citric Acid)", "ch": 3772, "v": 2.3}, {"s": "After (HNO₃+Citric Acid)", "ch": 3780, "v": 1},
      {"s": "After (HNO₃+Citric Acid)", "ch": 3788, "v": 2.3}, {"s": "After (HNO₃+Citric Acid)", "ch": 3796, "v": 0.5},
      {"s": "After (HNO₃+Citric Acid)", "ch": 3804, "v": 2.2}, {"s": "After (HNO₃+Citric Acid)", "ch": 3812, "v": 1},
      {"s": "After (HNO₃+Citric Acid)", "ch": 3820, "v": 2.1}, {"s": "After (HNO₃+Citric Acid)", "ch": 3828, "v": 0.5},
      {"s": "After (HNO₃+Citric Acid)", "ch": 3836, "v": 2}, {"s": "After (HNO₃+Citric Acid)", "ch": 3844, "v": 1},
      {"s": "After (HNO₃+Citric Acid)", "ch": 3852, "v": 2}, {"s": "After (HNO₃+Citric Acid)", "ch": 3860, "v": 0.5},
      {"s": "After (HNO₃+Citric Acid)", "ch": 3868, "v": 1.9}, {"s": "After (HNO₃+Citric Acid)", "ch": 3876, "v": 1},
      {"s": "After (HNO₃+Citric Acid)", "ch": 3884, "v": 1.8}, {"s": "After (HNO₃+Citric Acid)", "ch": 3892, "v": 0.5},
      {"s": "After (HNO₃+Citric Acid)", "ch": 3900, "v": 1.7}, {"s": "After (HNO₃+Citric Acid)", "ch": 3908, "v": 1},
      {"s": "After (HNO₃+Citric Acid)", "ch": 3916, "v": 1.6}, {"s": "After (HNO₃+Citric Acid)", "ch": 3924, "v": 0.5},
      {"s": "After (HNO₃+Citric Acid)", "ch": 3932, "v": 1.5}, {"s": "After (HNO₃+Citric Acid)", "ch": 3940, "v": 0.5},
      {"s": "After (HNO₃+Citric Acid)", "ch": 3948, "v": 1.4}, {"s": "After (HNO₃+Citric Acid)", "ch": 3956, "v": 0.5},
      {"s": "After (HNO₃+Citric Acid)", "ch": 3964, "v": 1.4}, {"s": "After (HNO₃+Citric Acid)", "ch": 3972, "v": 0.5},
      {"s": "After (HNO₃+Citric Acid)", "ch": 3980, "v": 1.3}, {"s": "After (HNO₃+Citric Acid)", "ch": 3990, "v": 0.5}
    ],
    "peakLabels": [
      {"ch": 1029, "v": 61200, "t": "Cs-134"},
      {"ch": 1383, "v": 55300, "t": "Cs-137"},
      {"ch": 1579, "v": 55300, "t": "Cs-134"},
      {"ch": 2116, "v": 597, "t": "Cs-134"},
      {"ch": 2307, "v": 1090, "t": "Cs-134"},
      {"ch": 2696, "v": 1178, "t": "Cs-134"},
      {"ch": 3189, "v": 597, "t": "La-140"},
      {"ch": 558, "v": 11.2, "t": "Sb-125"}
    ],
    "notes": [
      {"ch": 87, "v": 3.89, "t": "(Most of peaks have no nuclide name"},
      {"ch": 122, "v": 1.57, "t": "are of Eu-154)"}
    ],
    "arrows": [
      {"x1": 654, "y1": 90.4, "x2": 340, "y2": 9270},
      {"x1": 654, "y1": 90.4, "x2": 851, "y2": 1270},
      {"x1": 654, "y1": 90.4, "x2": 916, "y2": 1440},
      {"x1": 654, "y1": 90.4, "x2": 1169, "y2": 808},
      {"x1": 654, "y1": 90.4, "x2": 1213, "y2": 768},
      {"x1": 654, "y1": 90.4, "x2": 1265, "y2": 677},
      {"x1": 1051, "y1": 58200, "x2": 1182, "y2": 74900},
      {"x1": 1051, "y1": 58200, "x2": 1117, "y2": 16500}
    ],
    "leaders": [
      {"x1": 1192, "y1": 74900, "x2": 1192, "y2": 9500}
    ]
  },
  "layer": [
    {
      "data": {"name": "spectrum"},
      "mark": {"type": "line", "clip": true, "interpolate": "linear"},
      "encoding": {
        "x": {
          "field": "ch", "type": "quantitative",
          "scale": {"domain": [0, 4000], "nice": false, "zero": false},
          "axis": {
            "values": [0, 500, 1000, 1500, 2000, 2500, 3000, 3500, 4000],
            "format": "d",
            "labelFontSize": 35,
            "titleFontSize": 35,
            "tickSize": -8,
            "labelPadding": 29,
            "labelFlush": false,
            "grid": false,
            "title": "Channel Number",
            "titlePadding": 6
          }
        },
        "y": {
          "field": "v", "type": "quantitative",
          "scale": {"type": "log", "domain": [1, 1000000], "nice": false},
          "axis": {
            "values": [1, 2, 3, 4, 5, 6, 7, 8, 9, 10, 20, 30, 40, 50, 60, 70, 80, 90, 100, 200, 300, 400, 500, 600, 700, 800, 900, 1000, 2000, 3000, 4000, 5000, 6000, 7000, 8000, 9000, 10000, 20000, 30000, 40000, 50000, 60000, 70000, 80000, 90000, 100000, 200000, 300000, 400000, 500000, 600000, 700000, 800000, 900000, 1000000],
            "labelExpr": "datum.value === 1 ? '1' : datum.value === 10 ? '10' : datum.value === 100 ? '10²' : datum.value === 1000 ? '10³' : datum.value === 10000 ? '10⁴' : datum.value === 100000 ? '10⁵' : datum.value === 1000000 ? '10⁶' : ''",
            "labelFontSize": 35,
            "titleFontSize": 33.5,
            "tickSize": -8,
            "labelPadding": 17,
            "grid": true,
            "gridColor": "black",
            "gridWidth": 1.2,
            "gridOpacity": {"condition": {"test": "indexof([1, 10, 100, 1000, 10000, 100000, 1000000], datum.value) >= 0", "value": 1}, "value": 0},
            "title": "γ -Ray Intensity (counts/10000s)",
            "titleAngle": -90,
            "titleX": -87,
            "titleY": 202,
            "titleAlign": "center",
            "titleBaseline": "middle"
          }
        },
        "color": {
          "field": "s", "type": "nominal",
          "scale": {"domain": ["Before", "After (HNO₃+Citric Acid)"], "range": ["#000000", "#7a7a7a"]},
          "legend": {"title": null}
        },
        "strokeDash": {
          "field": "s", "type": "nominal",
          "scale": {"domain": ["Before", "After (HNO₃+Citric Acid)"], "range": [[1, 0], [1.5, 1.5]]},
          "legend": {"title": null}
        },
        "strokeWidth": {
          "field": "s", "type": "nominal",
          "scale": {"domain": ["Before", "After (HNO₃+Citric Acid)"], "range": [1.7, 2.2]},
          "legend": null
        }
      }
    },
    {
      "data": {"name": "leaders"},
      "mark": {"type": "rule", "color": "black", "strokeWidth": 1.2},
      "encoding": {
        "x": {"field": "x1", "type": "quantitative"},
        "y": {"field": "y1", "type": "quantitative"},
        "x2": {"field": "x2"},
        "y2": {"field": "y2"}
      }
    },
    {
      "data": {"name": "arrows"},
      "mark": {"type": "rule", "color": "black", "strokeWidth": 2.5},
      "encoding": {
        "x": {"field": "x1", "type": "quantitative"},
        "y": {"field": "y1", "type": "quantitative"},
        "x2": {"field": "x2"},
        "y2": {"field": "y2"}
      }
    },
    {
      "data": {"name": "arrows"},
      "transform": [
        {"calculate": "atan2((datum.x2 - datum.x1) * 917 / 4000, (log(datum.y2) - log(datum.y1)) / LN10 * 549 / 6) * 180 / PI", "as": "heading"}
      ],
      "mark": {"type": "point", "shape": "M0,0L0.36,1L-0.36,1Z", "filled": true, "color": "black", "opacity": 1, "size": 1000},
      "encoding": {
        "x": {"field": "x2", "type": "quantitative"},
        "y": {"field": "y2", "type": "quantitative"},
        "angle": {"field": "heading", "type": "quantitative", "scale": null}
      }
    },
    {
      "data": {"name": "peakLabels"},
      "mark": {"type": "text", "angle": 270, "align": "left", "baseline": "middle", "font": "Liberation Serif", "fontSize": 35, "color": "black"},
      "encoding": {
        "x": {"field": "ch", "type": "quantitative"},
        "y": {"field": "v", "type": "quantitative"},
        "text": {"field": "t"}
      }
    },
    {
      "data": {"name": "notes"},
      "mark": {"type": "text", "align": "left", "baseline": "alphabetic", "font": "Liberation Serif", "fontSize": 31.5, "color": "black"},
      "encoding": {
        "x": {"field": "ch", "type": "quantitative"},
        "y": {"field": "v", "type": "quantitative"},
        "text": {"field": "t"}
      }
    }
  ]
}
